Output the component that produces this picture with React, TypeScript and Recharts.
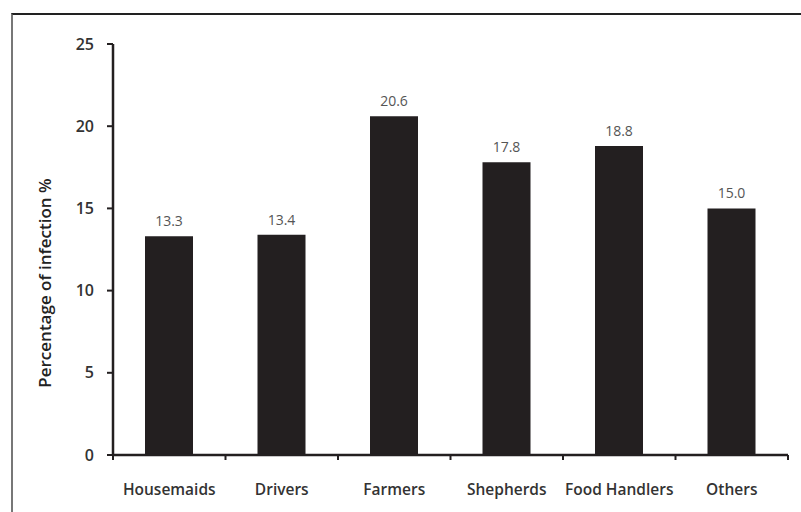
import { Bar, BarChart, LabelList, XAxis, YAxis } from "recharts";

const categories = ["Housemaids", "Drivers", "Farmers", "Shepherds", "Food Handlers", "Others"];
const infection = [13.3, 13.4, 20.6, 17.8, 18.8, 15.0];
const yTicks = [0, 5, 10, 15, 20, 25];

const data = categories.map((name, i) => ({ name, value: infection[i] }));

const W = 801;
const H = 512;
const MARGIN = { top: 44, right: 13, bottom: 2, left: 53 };
const Y_AXIS_W = 60;
const PLOT_W = W - MARGIN.left - MARGIN.right - Y_AXIS_W;
const BAND = PLOT_W / categories.length;
const INK = "#231f20";
const FONT = "'Open Sans', Lato, sans-serif";

function CategoryTick(props: any) {
  const { x, y, payload, index } = props;
  const left = x - BAND / 2;
  const last = index === categories.length - 1;
  return (
    <g>
      <line x1={left} x2={left} y1={y - 8} y2={y - 3} stroke={INK} strokeWidth={2} />
      {last && <line x1={x + BAND / 2} x2={x + BAND / 2} y1={y - 8} y2={y - 3} stroke={INK} strokeWidth={2} />}
      <text x={x} y={y + 21} dy="0.71em" textAnchor="middle" fill="#333" fontSize={15.5} fontWeight={600} fontFamily={FONT}>
        {payload.value}
      </text>
    </g>
  );
}

export default function App() {
  return (
    <div style={{ position: "absolute", left: 0, top: 0, width: W, height: H, background: "#fff", overflow: "hidden" }}>
      <div
        style={{
          position: "absolute",
          left: 11,
          top: 13,
          width: W,
          height: H,
          borderTop: "2px solid #222",
          borderLeft: "2px solid #777",
        }}
      />
      <BarChart width={W} height={H} data={data} margin={MARGIN}>
        <XAxis
          dataKey="name"
          height={55}
          axisLine={{ stroke: INK, strokeWidth: 2.5 }}
          tickLine={false}
          interval={0}
          tick={<CategoryTick />}
        />
        <YAxis
          domain={[0, 25]}
          ticks={yTicks}
          width={Y_AXIS_W}
          axisLine={{ stroke: INK, strokeWidth: 2.5 }}
          tickLine={{ stroke: INK, strokeWidth: 2 }}
          tickSize={6}
          tickMargin={13}
          tick={{ fill: "#333", fontSize: 16, fontWeight: 600, fontFamily: FONT }}
          label={{
            content: () => (
              <text
                transform="translate(44,283) rotate(-90)"
                textAnchor="middle"
                dominantBaseline="central"
                fill="#222"
                fontSize={17}
                fontWeight={600}
                fontFamily={FONT}
              >
                Percentage of infection %
              </text>
            ),
          }}
        />
        <Bar dataKey="value" fill={INK} barSize={48} isAnimationActive={false}>
          <LabelList
            dataKey="value"
            position="top"
            offset={10}
            fill="#555"
            fontSize={14}
            fontFamily={FONT}
            formatter={(v: any) => Number(v).toFixed(1)}
          />
        </Bar>
      </BarChart>
    </div>
  );
}
